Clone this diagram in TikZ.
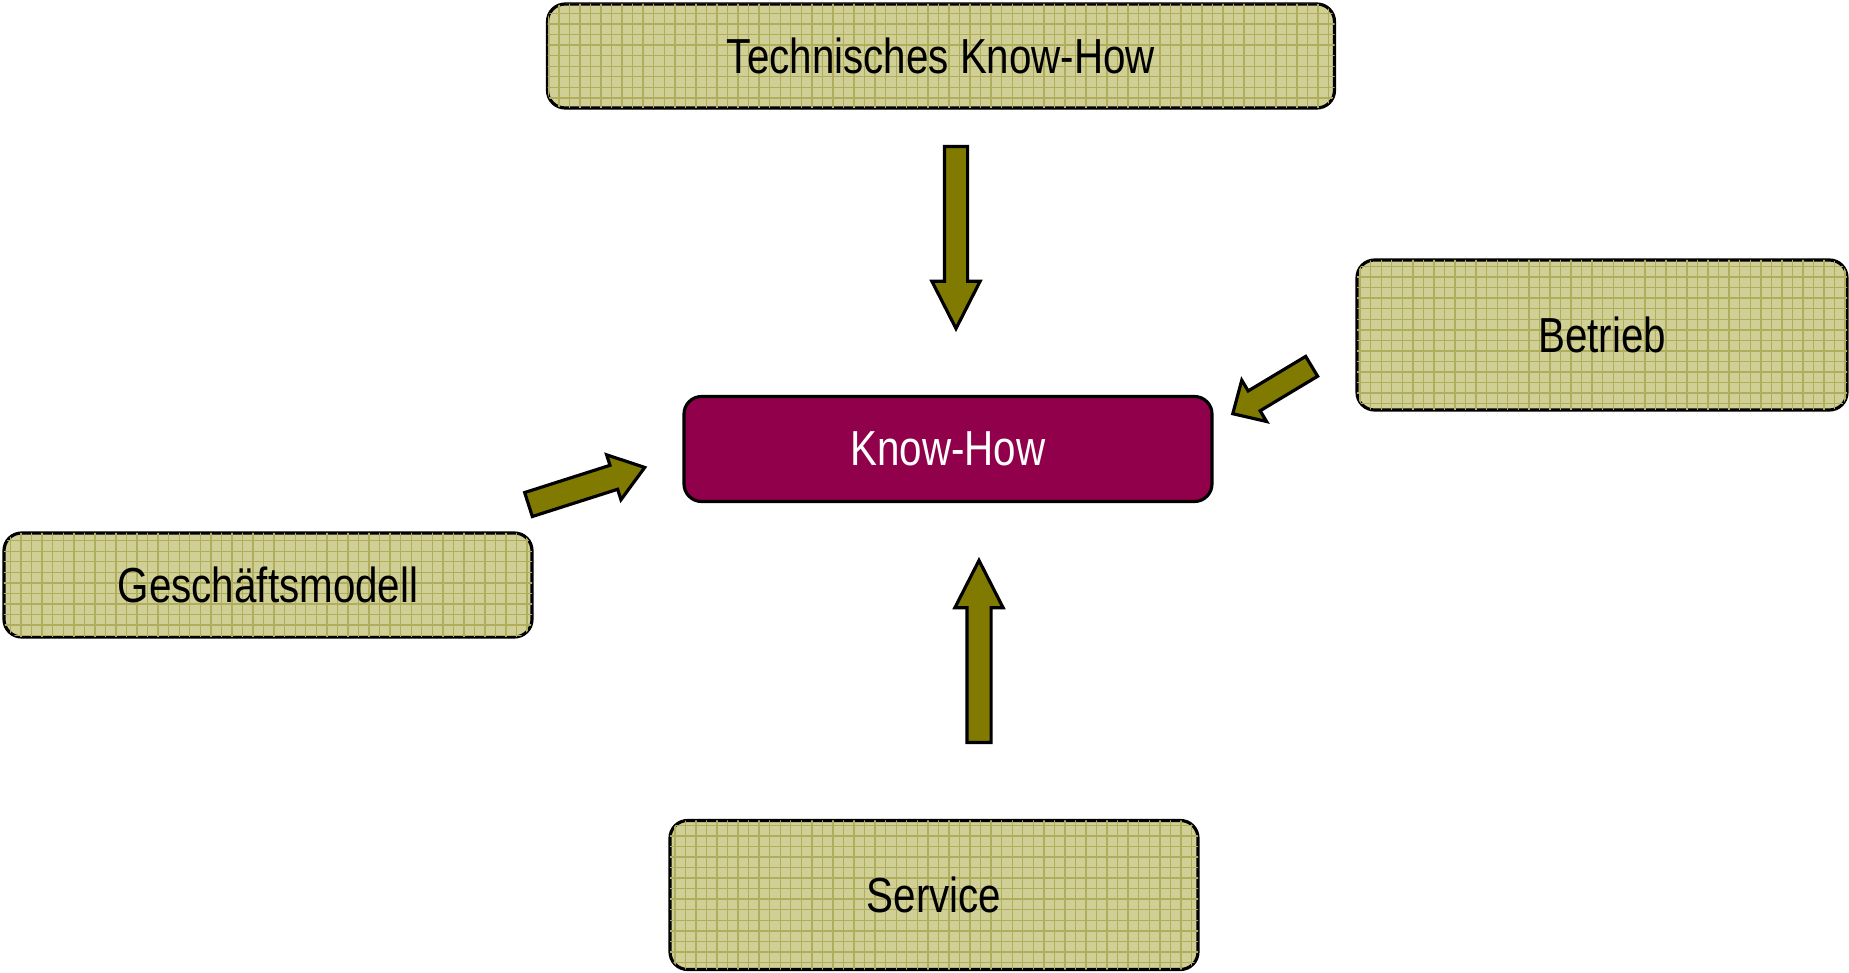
\documentclass[tikz,border=0pt]{standalone}
\usepackage{fontspec}
\setmainfont{Liberation Sans}[FakeStretch=0.82]
\usetikzlibrary{shapes.arrows, patterns, positioning}

\definecolor{khaki}{RGB}{208,207,150}
\definecolor{meshline}{RGB}{176,173,92}
\definecolor{arrolive}{RGB}{128,122,0}
\definecolor{wine}{RGB}{145,0,75}

\begin{document}
\begin{tikzpicture}[
    field/.style={rectangle, draw=black, line width=0.9pt, fill=khaki,
                  rounded corners=5pt, inner sep=0pt,
                  font=\fontsize{14}{16}\selectfont, text centered,
                  postaction={pattern=grid, pattern color=meshline}},
    core/.style={rectangle, draw=black, line width=0.9pt, fill=wine,
                 rounded corners=5pt, inner sep=0pt, text=white,
                 font=\fontsize{14}{16}\selectfont, text centered},
    blk/.style={single arrow, draw=black, line width=0.9pt, fill=arrolive,
                inner sep=0pt, single arrow head indent=0pt, anchor=tail},
  ]
    \useasboundingbox (0,0) rectangle (18.49,-9.73);

    % Zentrum
    \node[core, minimum width=5.28cm, minimum height=1.05cm] (kh)
      at (9.48,-4.49) {Know-How};

    % Bereiche
    \node[field, minimum width=7.87cm, minimum height=1.04cm] (tk)
      at (9.41,-0.56) {Technisches Know-How};
    \node[field, minimum width=4.90cm, minimum height=1.50cm] (bt)
      at (16.02,-3.35) {Betrieb};
    \node[field, minimum width=5.28cm, minimum height=1.04cm] (gm)
      at (2.68,-5.85) {Geschäftsmodell};
    \node[field, minimum width=5.28cm, minimum height=1.49cm] (sv)
      at (9.34,-8.95) {Service};

    % Pfeile
    \node[blk, rotate=-90, minimum height=1.82cm, inner ysep=0.10cm,
          single arrow head extend=0.125cm, single arrow tip angle=54] (atk)
      at (9.56,-1.45) {};
    \node[blk, rotate=90, minimum height=1.82cm, inner ysep=0.105cm,
          single arrow head extend=0.12cm, single arrow tip angle=54] (asv)
      at (9.79,-7.44) {};
    \node[blk, rotate=17.7, minimum height=1.22cm, inner ysep=0.11cm,
          single arrow head extend=0.11cm, single arrow tip angle=72] (agm)
      at (5.27,-5.05) {};
    \node[blk, rotate=211, minimum height=0.92cm, inner ysep=0.10cm,
          single arrow head extend=0.125cm, single arrow tip angle=88] (abt)
      at (13.13,-3.655) {};
  \end{tikzpicture}
\end{document}
